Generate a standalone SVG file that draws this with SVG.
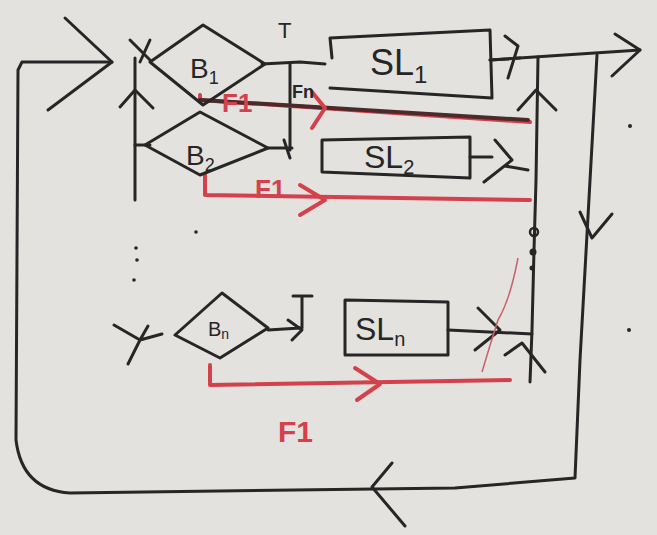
<svg xmlns="http://www.w3.org/2000/svg" width="657" height="535" viewBox="0 0 657 535">
<style>
.k{fill:none;stroke:#262626;stroke-width:3;stroke-linecap:round;stroke-linejoin:round}
.r{fill:none;stroke:#d4404c;stroke-width:4;stroke-linecap:round;stroke-linejoin:round}
.t{font-family:"Liberation Sans",Arial,sans-serif;fill:#262626}
.rt{font-family:"Liberation Sans",Arial,sans-serif;fill:#d4404c;font-weight:bold}
</style>
<rect width="657" height="535" fill="#e3e2de"/>
<g id="connectors">
  <!-- outer feedback loop -->
  <path class="k" d="M112,62 L22,62 L18,70 L16,440 Q22,490 70,493 L455,488 L575,478 L580,360 L597,55"/>
  <path class="k" d="M65,18 L112,62 L48,110"/>
  <path class="k" d="M392,463 L372,487 L405,526"/>
  <path class="k" d="M580,212 L592,238 L612,214"/>
  <!-- output -->
  <path class="k" d="M490,60 L640,50"/>
  <path class="k" d="M615,34 L640,50 L612,76"/>
  <!-- left bus -->
  <path class="k" d="M135,58 L135,200"/>
  <path class="k" d="M130,40 L150,60 M150,40 L140,62"/>
  <path class="k" d="M120,107 L135,90 L153,108"/>
  <path class="k" d="M135,145 L150,145"/>
  <circle cx="136" cy="248" r="1.8" fill="#262626"/>
  <circle cx="137" cy="260" r="1.8" fill="#262626"/>
  <circle cx="134" cy="280" r="1.8" fill="#262626"/>
  <circle cx="196" cy="232" r="1.8" fill="#262626"/>
  <path class="k" d="M114,325 L140,340 L162,334 M148,326 L140,340 L128,364"/>
  <!-- B to SL -->
  <path class="k" d="M262,64 L300,62 L325,64"/>
  <path class="k" d="M290,64 L290,150"/>
  <path class="k" d="M268,148 L292,148 M284,140 L290,158"/>
  <path class="k" d="M268,330 L300,328 M288,320 L302,330 L292,340 M293,296 L312,296 M302,296 L302,328"/>
  <!-- SL outputs -->
  <path class="k" d="M490,60 L520,58 M505,36 L518,46 L508,78"/>
  <path class="k" d="M470,157 L492,157 M495,140 L512,160 L484,182 M505,166 L528,170"/>
  <path class="k" d="M448,330 L532,334"/>
  <path class="k" d="M478,308 L500,330 L475,350"/>
  <!-- right collector -->
  <path class="k" d="M538,57 L536,180 L534,250 L532,330 L530,382"/>
  <path class="k" d="M518,110 L536,90 L556,110"/>
  <path class="k" d="M505,355 L522,343 L545,372"/>
  <circle cx="534" cy="232" r="4" fill="none" stroke="#262626" stroke-width="2.5"/>
  <circle cx="533" cy="252" r="3.5" fill="#262626"/>
  <circle cx="532" cy="268" r="2.5" fill="#262626"/>
  <circle cx="630" cy="126" r="2" fill="#262626"/>
  <circle cx="629" cy="330" r="2" fill="#262626"/>
  <!-- red feedback lines -->
  <path class="r" d="M200,95 L200,100 L530,122" stroke-width="6"/>
  <path d="M200,100 L528,120" fill="none" stroke="#4a2a2a" stroke-width="4" stroke-linecap="round"/>
  <path class="r" d="M312,92 L325,108 L312,128"/>
  <path class="r" d="M205,175 L205,195 L530,200"/>
  <path class="r" d="M300,185 L325,200 L300,215"/>
  <path class="r" d="M210,365 L210,385 L510,380"/>
  <path class="r" d="M355,368 L380,384 L357,400"/>
  <path d="M518,258 Q510,300 498,320 Q490,345 482,372" fill="none" stroke="#c9606a" stroke-width="1.5"/>
</g>
<g id="B1">
  <path class="k" d="M150,62 L203,25 L265,64 L203,105 Z"/>
  <text class="t" x="190" y="78" font-size="28">B<tspan font-size="18" dy="6">1</tspan></text>
</g>
<g id="B2">
  <path class="k" d="M145,145 L200,112 L268,148 L200,175 Z"/>
  <text class="t" x="186" y="165" font-size="28">B<tspan font-size="18" dy="6">2</tspan></text>
</g>
<g id="Bn">
  <path class="k" d="M175,335 L222,293 L268,328 L220,358 Z"/>
  <text class="t" x="208" y="336" font-size="20">B<tspan font-size="14" dy="3">n</tspan></text>
</g>
<g id="SL1">
  <path class="k" d="M332,58 L330,38 L490,30 L492,98 L330,88"/>
  <text class="t" x="370" y="75" font-size="36">SL<tspan font-size="24" dy="8">1</tspan></text>
</g>
<g id="SL2">
  <path class="k" d="M322,140 L470,137 L470,178 L322,172 Z"/>
  <text class="t" x="364" y="168" font-size="32">SL<tspan font-size="20" dy="6">2</tspan></text>
</g>
<g id="SLn">
  <path class="k" d="M345,300 L448,302 L448,355 L345,355 Z"/>
  <text class="t" x="355" y="340" font-size="32">SL<tspan font-size="20" dy="6">n</tspan></text>
</g>
<g id="labels">
  <text class="t" x="278" y="38" font-size="22">T</text>
  <text class="t" x="292" y="98" font-size="18" font-weight="bold">Fn</text>
  <text class="rt" x="222" y="112" font-size="26">F1</text>
  <text class="rt" x="255" y="198" font-size="26">F1</text>
  <text class="rt" x="278" y="442" font-size="30">F1</text>
</g>
</svg>
